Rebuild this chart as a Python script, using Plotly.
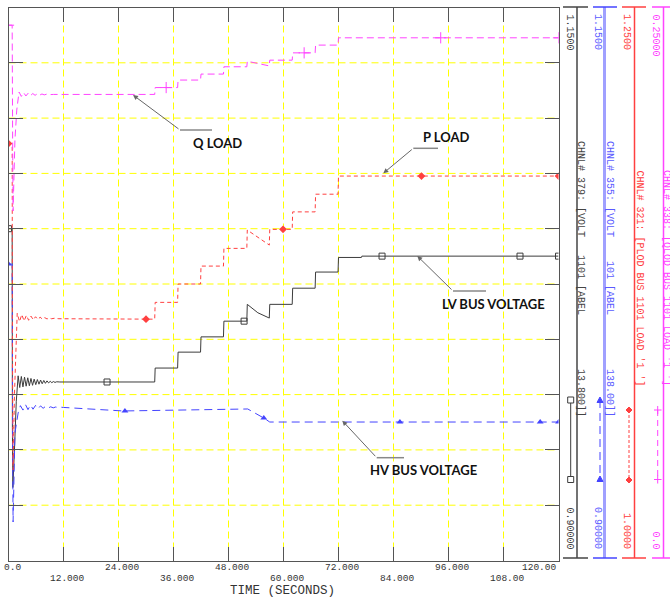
import plotly.graph_objects as go

W, H = 670, 600

# ---------------- data ----------------
# LV bus voltage (black), axis 0.90 - 1.15
t_lv = [0, 0.8, 0.85, 0.95, 1.3, 1.7,
        2.1, 2.45, 2.8, 3.15, 3.5, 3.85, 4.2, 4.55, 4.9, 5.25, 5.6, 5.95, 6.3, 6.65,
        7.0, 7.35, 7.7, 8.05, 8.4, 8.75, 9.1, 9.45, 9.8, 10.15, 10.5, 10.85, 11.2,
        31.9, 32.0, 36.9, 37.0, 41.9, 42.0, 46.9, 47.0, 52.0, 52.1, 54.4, 56.9, 57.0,
        61.9, 62.0, 66.9, 67.0, 71.9, 72.0, 77.0, 77.1, 120]
v_lv = [1.050, 1.050, 0.960, 0.933, 0.950, 0.972,
        0.9835, 0.9782, 0.9832, 0.9785, 0.9829, 0.9788, 0.9826, 0.9790, 0.9823, 0.9792,
        0.9820, 0.9795, 0.9818, 0.9797, 0.9816, 0.9799, 0.9814, 0.9801, 0.9812, 0.9803,
        0.9810, 0.9804, 0.9809, 0.9805, 0.9808, 0.9806, 0.9807,
        0.9807, 0.9870, 0.9870, 0.9942, 0.9942, 1.0011, 1.0011, 1.0082, 1.0082, 1.0158,
        1.0120, 1.0096, 1.0158, 1.0158, 1.0231, 1.0231, 1.0304, 1.0304, 1.0370, 1.0370,
        1.0376, 1.0376]
t_lv_mk = [0, 21.5, 51.4, 81.5, 111.6, 120]
v_lv_mk = [1.050, 0.9807, 1.0082, 1.0376, 1.0376, 1.0376]

# HV bus voltage (blue), axis 0.90 - 1.15
t_hv = [0, 0.8, 0.9, 1.0, 1.4, 2.1,
        2.6, 3.15, 3.7, 4.25, 4.8, 5.35, 5.9, 6.45, 7.0, 7.55, 8.1, 8.65, 9.2, 9.75,
        10.3, 10.85, 11.4, 12.0, 25.0, 32.0, 52.2, 55.7, 57.0, 120]
v_hv = [1.034, 1.034, 0.950, 0.9174, 0.9576, 0.9667,
        0.9700, 0.9680, 0.9705, 0.9682, 0.9703, 0.9684, 0.9701, 0.9686, 0.9699, 0.9688,
        0.9697, 0.9689, 0.9695, 0.9690, 0.9694, 0.9691, 0.9693, 0.9692, 0.9676, 0.9678,
        0.9685, 0.9644, 0.9626, 0.9626]
t_hv_mk = [0, 25.4, 55.7, 85.4, 116, 120]
v_hv_mk = [1.034, 0.9676, 0.9644, 0.9626, 0.9626, 0.9626]

# P load (red), axis 1.00 - 1.25
t_p = [0, 0.8, 0.85, 1.0, 1.3, 1.6,
       1.9, 2.4, 2.9, 3.4, 3.9, 4.4, 4.9, 5.4, 5.9, 6.4, 6.9, 7.4, 7.9, 8.4, 8.9, 9.4,
       10.0, 11.0, 31.9, 32.0, 36.9, 37.0, 41.9, 42.0, 46.9, 47.0, 52.0, 52.1, 54.5,
       56.9, 57.0, 61.9, 62.0, 66.9, 67.0, 71.9, 72.0, 120]
v_p = [1.1885, 1.1885, 1.100, 1.041, 1.075, 1.100,
       1.1118, 1.1080, 1.1112, 1.1083, 1.1108, 1.1086, 1.1105, 1.1088, 1.1102, 1.1090,
       1.1100, 1.1091, 1.1098, 1.1092, 1.1096, 1.1093, 1.1095, 1.1093, 1.1091, 1.1167,
       1.1167, 1.1250, 1.1250, 1.1331, 1.1331, 1.1411, 1.1411, 1.1494, 1.1458, 1.1426,
       1.1497, 1.1497, 1.1576, 1.1576, 1.1656, 1.1656, 1.1738, 1.1738]
t_p_mk = [0, 30, 59.9, 90.1, 120]
v_p_mk = [1.1885, 1.1091, 1.1497, 1.1738, 1.1738]

# Q load (magenta), axis 0.0 - 0.25
t_q = [0, 0.8, 0.9, 1.0, 1.4, 1.8,
       2.3, 2.8, 3.3, 3.8, 4.3, 4.8, 5.3, 5.8, 6.3, 6.8, 7.3, 7.8, 8.3, 8.8, 9.8,
       31.9, 32.0, 36.9, 37.0, 41.9, 42.0, 46.9, 47.0, 52.0, 52.1, 54.5, 56.9, 57.0,
       61.9, 62.0, 66.9, 67.0, 71.9, 72.0, 120]
v_q = [0.242, 0.242, 0.190, 0.158, 0.190, 0.2036,
       0.2118, 0.2098, 0.2115, 0.2100, 0.2113, 0.2102, 0.2111, 0.2103, 0.2110, 0.2104,
       0.2109, 0.2105, 0.2108, 0.2106, 0.2107,
       0.2107, 0.2138, 0.2138, 0.2172, 0.2172, 0.2199, 0.2199, 0.2232, 0.2232, 0.2257,
       0.2245, 0.2236, 0.2262, 0.2262, 0.2295, 0.2295, 0.2330, 0.2330, 0.2363, 0.2363]
t_q_mk = [0, 34.4, 64.5, 94.3, 120]
v_q_mk = [0.242, 0.2138, 0.2295, 0.2363, 0.2363]

# axis labels / tick labels
x_grid = [12, 24, 36, 48, 60, 72, 84, 96, 108]
y_grid = [0.925, 0.95, 0.975, 1.0, 1.025, 1.05, 1.075, 1.1, 1.125]
x_ticks_row1 = [0, 24, 48, 72, 96, 120]
x_labels_row1 = ["0.0", "24.000", "48.000", "72.000", "96.000", "120.00"]
x_ticks_row2 = [12, 36, 60, 84, 108]
x_labels_row2 = ["12.000", "36.000", "60.000", "84.000", "108.00"]
x_title = "TIME (SECONDS)"

channel_names = ["CHNL# 379: [VOLT   1101 [ABEL         13.800]]",
                 "CHNL# 355: [VOLT    101 [ABEL         138.00]]",
                 "CHNL# 321: [PLOD BUS 1101 LOAD '1 ']",
                 "CHNL# 338: [QLOD BUS 1101 LOAD '1 ']"]
axis_max_labels = ["1.1500", "1.1500", "1.2500", "0.25000"]
axis_min_labels = ["0.90000", "0.90000", "1.0000", "0.0"]
callouts = ["Q LOAD", "P LOAD", "LV BUS VOLTAGE", "HV BUS VOLTAGE"]

# ---------------- styling ----------------
C_BLK, C_BLU, C_RED, C_MAG = "#3c3c3c", "#4444ff", "#ff4040", "#ff44ff"
MONO = "Liberation Mono"
YEL = "#ffff00"


def fx(p):
    return p / W


def fy(p):
    return 1 - p / H


# plot frame in pixels
PL, PR, PT, PB = 8.5, 558.5, 7.5, 560.5

fig = go.Figure()

fig.add_trace(go.Scatter(x=t_lv, y=v_lv, mode="lines", yaxis="y",
                         line=dict(color=C_BLK, width=1)))
fig.add_trace(go.Scatter(x=t_lv_mk, y=v_lv_mk, mode="markers", yaxis="y",
                         marker=dict(symbol="square-open", size=6, color=C_BLK,
                                     line=dict(width=1, color=C_BLK))))
fig.add_trace(go.Scatter(x=t_hv, y=v_hv, mode="lines", yaxis="y2",
                         line=dict(color=C_BLU, width=1, dash="8px,5px")))
fig.add_trace(go.Scatter(x=t_hv_mk, y=v_hv_mk, mode="markers", yaxis="y2",
                         marker=dict(symbol="triangle-up", size=6, color=C_BLU)))
fig.add_trace(go.Scatter(x=t_p, y=v_p, mode="lines", yaxis="y3",
                         line=dict(color=C_RED, width=1, dash="4px,3px")))
fig.add_trace(go.Scatter(x=t_p_mk, y=v_p_mk, mode="markers", yaxis="y3",
                         marker=dict(symbol="diamond", size=6, color=C_RED)))
fig.add_trace(go.Scatter(x=t_q, y=v_q, mode="lines", yaxis="y4",
                         line=dict(color=C_MAG, width=1, dash="7px,4px")))
fig.add_trace(go.Scatter(x=t_q_mk, y=v_q_mk, mode="markers", yaxis="y4",
                         marker=dict(symbol="cross-thin", size=8, color=C_MAG,
                                     line=dict(width=1, color=C_MAG))))

axstyle = dict(showgrid=False, zeroline=False, showline=True, linecolor="#555",
               linewidth=1, mirror="ticks", ticks="inside", ticklen=14,
               tickcolor="#555", tickwidth=1, showticklabels=False)

dom_x = [fx(PL), fx(PR)]
dom_y = [fy(PB), fy(PT)]

fig.update_layout(
    width=W, height=H, margin=dict(l=0, r=0, t=0, b=0),
    paper_bgcolor="white", plot_bgcolor="white", showlegend=False,
    xaxis=dict(range=[0, 120], dtick=12, tick0=0, domain=dom_x, **axstyle),
    yaxis=dict(range=[0.9, 1.15], dtick=0.025, tick0=0.9, domain=dom_y, **axstyle),
    yaxis2=dict(range=[0.9, 1.15], overlaying="y", visible=False),
    yaxis3=dict(range=[1.0, 1.25], overlaying="y", visible=False),
    yaxis4=dict(range=[0.0, 0.25], overlaying="y", visible=False),
)

ann = []
shapes = []

# dashed yellow grid, placed through the axes' own scales
for v in x_grid:
    shapes.append(dict(type="line", xref="x", yref="y domain", x0=v, x1=v, y0=0, y1=1,
                       layer="below", line=dict(color=YEL, width=1, dash="7px,4px")))
for v in y_grid:
    shapes.append(dict(type="line", xref="x domain", yref="y", x0=0, x1=1, y0=v, y1=v,
                       layer="below", line=dict(color=YEL, width=1, dash="7px,4px")))

# x tick labels (two staggered rows) and title
for v, s in zip(x_ticks_row1, x_labels_row1):
    last = v == x_ticks_row1[-1]
    ann.append(dict(x=v, y=fy(567), xref="x", yref="paper", text=s, showarrow=False,
                    xanchor="right" if last else "center", yanchor="middle",
                    xshift=0 if last else 4,
                    font=dict(family=MONO, size=9.5, color="#333")))
for v, s in zip(x_ticks_row2, x_labels_row2):
    ann.append(dict(x=v, y=fy(578), xref="x", yref="paper", text=s, showarrow=False,
                    xanchor="center", yanchor="middle", xshift=4,
                    font=dict(family=MONO, size=9.5, color="#333")))
ann.append(dict(x=fx(282), y=fy(591), xref="paper", yref="paper", text=x_title,
                showarrow=False, xanchor="center", yanchor="middle",
                font=dict(family=MONO, size=12.5, color="#333")))

# right-hand channel axes
txtcols = ["#444", "#5a5aff", "#ff3c3c", "#ff40ff"]
axis_x = [577, 604.5, 634.5, 663.5]
axis_w = [1.5, 3, 1.5, 1.5]
axis_col = ["#444", "#a0a0ff", "#ff4040", "#ff44ff"]
bar_x = [(563, 588), (593, 617), (622, 646), (652, 670)]
lab_x = [569.5, 598, 627, 655.5]
name_x = [581, 610, 639.5, 667]
name_y = [139, 139, 168, 168]
for i in range(4):
    shapes.append(dict(type="line", xref="paper", yref="paper",
                       x0=fx(axis_x[i]), x1=fx(axis_x[i]), y0=fy(7), y1=fy(558),
                       line=dict(color=axis_col[i], width=axis_w[i])))
    for yy in (7, 558):
        shapes.append(dict(type="line", xref="paper", yref="paper",
                           x0=fx(bar_x[i][0]), x1=fx(bar_x[i][1]), y0=fy(yy), y1=fy(yy),
                           line=dict(color=axis_col[i] if i != 1 else C_BLU, width=1.5)))
    ann.append(dict(x=fx(lab_x[i]), y=fy(12), xref="paper", yref="paper",
                    text=axis_max_labels[i], textangle=90, showarrow=False,
                    xanchor="center", yanchor="top",
                    font=dict(family=MONO, size=10, color=txtcols[i])))
    ann.append(dict(x=fx(lab_x[i]), y=fy(551), xref="paper", yref="paper",
                    text=axis_min_labels[i], textangle=90, showarrow=False,
                    xanchor="center", yanchor="bottom",
                    font=dict(family=MONO, size=10, color=txtcols[i])))
    ann.append(dict(x=fx(name_x[i]), y=fy(name_y[i]), xref="paper", yref="paper",
                    text=channel_names[i].replace(" ", "\u00a0"), textangle=90,
                    showarrow=False, xanchor="center", yanchor="top",
                    font=dict(family=MONO, size=10, color=txtcols[i])))


# legend sample glyphs beside the axes
def seg(x0, y0, x1, y1, color, width=1, dash="solid"):
    shapes.append(dict(type="line", xref="paper", yref="paper", x0=fx(x0), x1=fx(x1),
                       y0=fy(y0), y1=fy(y1), line=dict(color=color, width=width, dash=dash)))


def sq(x, y, color):
    shapes.append(dict(type="rect", xref="paper", yref="paper", x0=fx(x - 3), x1=fx(x + 3),
                       y0=fy(y + 3), y1=fy(y - 3), line=dict(color=color, width=1),
                       fillcolor="white"))


def poly(pts, color):
    path = "M " + " L ".join(f"{fx(a)},{fy(b)}" for a, b in pts) + " Z"
    shapes.append(dict(type="path", xref="paper", yref="paper", path=path,
                       line=dict(color=color, width=1), fillcolor=color))


seg(570.7, 400, 570.7, 479.5, C_BLK)
sq(570.7, 400, C_BLK)
sq(570.7, 479.5, C_BLK)
seg(600, 400, 600, 479, C_BLU, dash="8px,5px")
for yy in (400, 479):
    poly([(597, yy + 2.5), (603, yy + 2.5), (600, yy - 3)], C_BLU)
seg(629, 410, 629, 480, C_RED, dash="3px,2px")
for yy in (410, 480):
    poly([(629, yy - 3), (632, yy), (629, yy + 3), (626, yy)], C_RED)
seg(657.7, 410, 657.7, 479.5, C_MAG, dash="6px,4px")
for yy in (410, 479.5):
    seg(654, yy, 661.5, yy, C_MAG)
    seg(657.7, yy - 4, 657.7, yy + 4, C_MAG)

# call-outs
co_center = [(217, 143), (447, 137), (494, 304), (423, 470)]
co_head = [(133, 95), (383.3, 173.3), (417.3, 256), (342.3, 420.7)]
co_tail = [(180, 130), (413.3, 148.3), (453, 291), (376.7, 457.7)]
co_end = [212, 438, 486, 404]
for i in range(4):
    ann.append(dict(x=fx(co_center[i][0]), y=fy(co_center[i][1]), xref="paper",
                    yref="paper", text=callouts[i], showarrow=False,
                    xanchor="center", yanchor="middle",
                    font=dict(family="Lato", size=13, color="#111", weight="bold")))
    hx, hy = co_head[i]
    tx, ty = co_tail[i]
    ann.append(dict(x=fx(hx), y=fy(hy), xref="paper", yref="paper", text="",
                    showarrow=True, ax=tx - hx, ay=ty - hy, arrowhead=2,
                    arrowsize=1, arrowwidth=1, arrowcolor="#666", standoff=0))
    seg(tx, ty, co_end[i], ty, "#888", width=1.5)

fig.update_layout(annotations=ann, shapes=shapes)
fig.write_html("out.html", config={"displayModeBar": False},
               post_script="document.body.style.margin='0';"
                           "document.body.style.overflow='hidden';")
